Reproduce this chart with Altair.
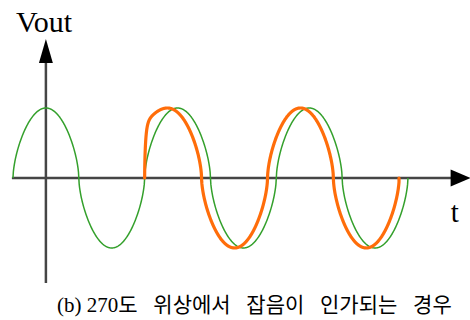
import altair as alt
import numpy as np
import pandas as pd

# Waveform parameters (time axis in electrical degrees, Vout axis at t = 0)
carrier_start, carrier_end = -90, 990      # clean wave, three periods
shape_exp = 0.6                            # rounded-top waveform: sign(cos)*|cos|^p
noise_phase = 270                          # phase at which the disturbance hits
lead_steady = 24                           # phase lead of the disturbed wave (deg)
lead_overshoot = 19                        # extra lead just after the step (deg)
step_rise = 5                              # how fast the step happens (deg)
lead_decay = 40                            # settling of the lead (deg)

# Axis extents (data units)
t_axis = [-93, 1108]
v_axis = [-1.5, 1.643]
t_arrow_tip, v_arrow_tip = 1134, 1.814

gap = "\u00a0\u00a0\u00a0"
labels = {"y": "Vout", "x": "t",
          "caption": gap.join(["(b) 270도", "위상에서", "잡음이", "인가되는", "경우"])}


def wave(phase_deg):
    c = np.cos(np.radians(phase_deg))
    return np.sign(c) * np.abs(c) ** shape_exp


t_green = np.arange(carrier_start, carrier_end + 1, 1.0)
green = pd.DataFrame({"t": t_green, "v": wave(t_green),
                      "i": np.arange(len(t_green))})

t_o = np.concatenate([np.arange(noise_phase, noise_phase + 30, 0.1),
                      np.arange(noise_phase + 30, carrier_end + 1, 0.5)])
dt = t_o - noise_phase
lead = (lead_steady + lead_overshoot * np.exp(-dt / lead_decay)
        - (lead_steady + lead_overshoot) * np.exp(-dt / step_rise))
phase = t_o + lead
keep = phase <= carrier_end
t_o, phase = t_o[keep], phase[keep]
orange = pd.DataFrame({"t": np.concatenate([t_o, [t_o[-1]]]),
                       "v": np.concatenate([wave(phase), [0.0]])})
orange["i"] = np.arange(len(orange))

xs = alt.Scale(domain=[-125.5, 1159.6], nice=False, zero=False)
ys = alt.Scale(domain=[-2.029, 2.543], nice=False, zero=False)
X = lambda f: alt.X(f, type="quantitative", scale=xs, axis=None)
Y = lambda f: alt.Y(f, type="quantitative", scale=ys, axis=None)

axis_color = "#454545"

h_axis = alt.Chart(pd.DataFrame({"t": [t_axis[0]], "t2": [t_axis[1]], "v": [0]})).mark_rule(
    color=axis_color, strokeWidth=2.5).encode(x=X("t"), x2="t2", y=Y("v"))
v_axis_rule = alt.Chart(pd.DataFrame({"t": [0], "v": [v_axis[0]], "v2": [v_axis[1]]})).mark_rule(
    color=axis_color, strokeWidth=2.5).encode(x=X("t"), y=Y("v"), y2="v2")

h_head = alt.Chart(pd.DataFrame({"t": [t_arrow_tip], "v": [0]})).mark_point(
    shape="M-1,-0.85L1,0L-1,0.85Z", size=400, filled=True, color="black", opacity=1
).encode(x=X("t"), y=Y("v"))
v_head = alt.Chart(pd.DataFrame({"t": [0], "v": [v_arrow_tip]})).mark_point(
    shape="M0,-1L0.58,1L-0.58,1Z", size=576, filled=True, color="black", opacity=1
).encode(x=X("t"), y=Y("v"))

green_line = alt.Chart(green).mark_line(color="#34a02c", strokeWidth=1.5).encode(
    x=X("t"), y=Y("v"), order="i")
orange_line = alt.Chart(orange).mark_line(color="#ff6d0a", strokeWidth=3.2,
                                          strokeJoin="round", strokeCap="round").encode(
    x=X("t"), y=Y("v"), order="i")

serif = "Liberation Serif, Times New Roman, serif"
vout_text = alt.Chart(pd.DataFrame({"t": [-82], "v": [2.086], "s": [labels["y"]]})).mark_text(
    font=serif, fontSize=30, align="left", baseline="alphabetic", color="black"
).encode(x=X("t"), y=Y("v"), text="s")
t_text = alt.Chart(pd.DataFrame({"t": [1118], "v": [-0.629], "s": [labels["x"]]})).mark_text(
    font=serif, fontSize=29, align="center", baseline="alphabetic", color="black"
).encode(x=X("t"), y=Y("v"), text="s")
caption = alt.Chart(pd.DataFrame({"t": [570], "v": [-1.914], "s": [labels["caption"]]})).mark_text(
    font="Liberation Serif, Noto Sans CJK KR", fontSize=21, align="center",
    baseline="alphabetic", color="black"
).encode(x=X("t"), y=Y("v"), text="s")

chart = alt.layer(
    h_axis, v_axis_rule, h_head, v_head, green_line, orange_line,
    vout_text, t_text, caption
).properties(
    width=470, height=320, padding=0, autosize=alt.AutoSizeParams(type="none"),
    background="white"
).configure_view(stroke=None)

chart.save("out.html", embed_options={"renderer": "svg", "actions": False})
